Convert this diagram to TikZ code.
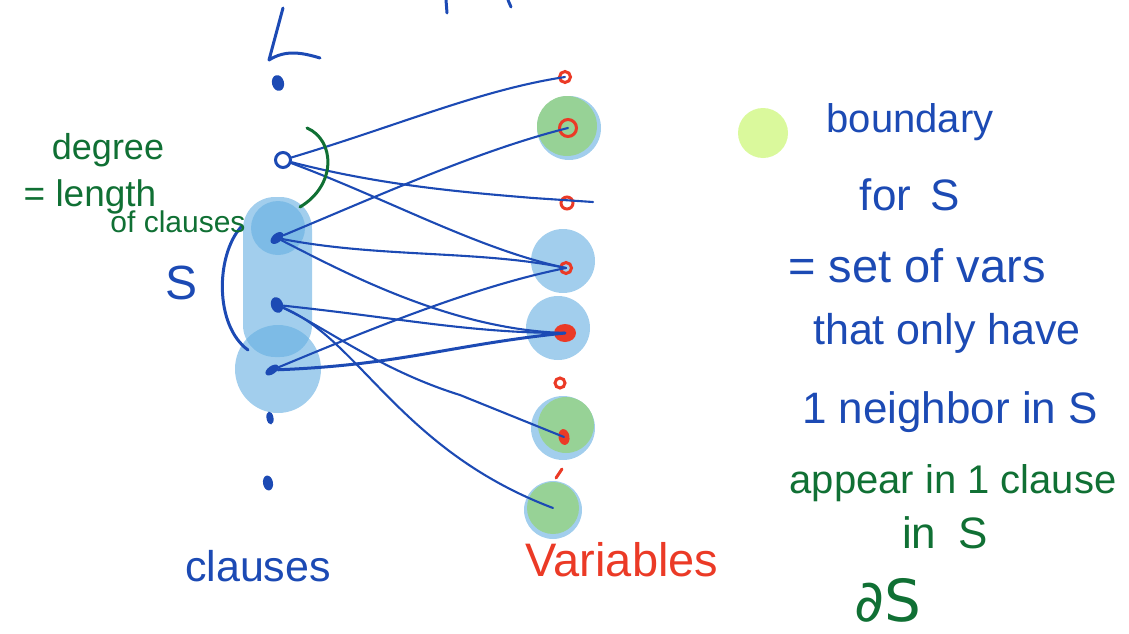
\documentclass[tikz,border=0pt]{standalone}
\usepackage{fontspec}
\setmainfont{Liberation Sans}
\newfontfamily\djv{DejaVu Sans}
\usetikzlibrary{shapes.geometric}
\definecolor{penblue}{RGB}{28,74,180}
\definecolor{penred}{RGB}{235,58,38}
\definecolor{pengreen}{RGB}{16,112,52}
\definecolor{hlblue}{RGB}{100,174,225}
\definecolor{hlgreen}{RGB}{151,210,150}
\definecolor{legendgreen}{RGB}{218,249,156}
\tikzset{
  edge/.style={draw=penblue, line width=2.1pt, line cap=round},
  stroke/.style={line width=3pt, line cap=round, line join=round},
  cdot/.style={ellipse, fill=penblue, minimum width=12pt, minimum height=16pt, inner sep=0pt},
  cring/.style={circle, draw=penblue, line width=3pt, minimum size=15pt, inner sep=0pt},
  vring/.style={circle, draw=penred, line width=3pt, minimum size=12pt, inner sep=0pt},
  vdot/.style={ellipse, fill=penred, minimum width=11pt, minimum height=16pt, inner sep=0pt},
  hl/.style={fill=hlblue, fill opacity=0.6},
  gblob/.style={circle, fill=hlgreen, inner sep=0pt},
  btxt/.style={text=penblue, inner sep=0pt},
  gtxt/.style={text=pengreen, inner sep=0pt},
  rtxt/.style={text=penred, inner sep=0pt},
}
\begin{document}
\begin{tikzpicture}[x=1pt,y=-1pt]
\useasboundingbox (0,0) rectangle (1129,634);
% highlight blobs (clauses)
\fill[hl, rounded corners=32pt] (243,197) rectangle (312,357);
\fill[hl] (278,228) circle (27);
\fill[hl] (278,369) ellipse (43 and 44);
% highlight blobs (variables)
\fill[hl] (569,128) circle (32);
\node[gblob, minimum size=60pt] (g2) at (567,126) {};
\fill[hl] (563,261) circle (32);
\fill[hl] (558,328) circle (32);
\fill[hl] (563,428) circle (32);
\node[gblob, minimum size=56pt] (g7) at (566,425) {};
\fill[hl] (553,510) circle (29);
\node[gblob, minimum size=52pt] (g8) at (553,508) {};
% legend circle
\node[circle, fill=legendgreen, minimum size=50pt, inner sep=0pt] (legend) at (763,133) {};

% clause nodes
\node[cdot, rotate=15] (c1) at (278,83) {};
\node[cring] (c2) at (283,160) {};
\node[cdot, rotate=-50, minimum height=15pt, minimum width=9pt] (c3) at (277,238) {};
\node[cdot, rotate=20] (c4) at (277,305) {};
\node[cdot, rotate=-55, minimum height=15pt, minimum width=8pt] (c5) at (272,370) {};
\node[cdot, rotate=10, minimum height=13pt, minimum width=7pt] (c6) at (270,418) {};
\node[cdot, rotate=10, minimum height=15pt, minimum width=10pt] (c7) at (268,483) {};

% variable nodes
\node[vring, minimum size=11pt] (v1) at (565,77) {};
\node[vring, minimum size=17pt] (v2) at (568,128) {};
\node[vring, minimum size=12pt] (v3) at (567,203) {};
\node[vring, minimum size=11pt] (v4) at (566,268) {};
\node[vdot, minimum width=22pt, minimum height=18pt] (v5) at (565,333) {};
\node[vring, minimum size=10pt] (v6) at (560,383) {};
\node[vdot, rotate=10] (v7) at (564,437) {};
\coordinate (v8) at (553,508);
\coordinate (v3end) at (593,202);
\draw[penred, stroke] (556,478) -- (562,469);

% edges
\draw[edge] (c2) .. controls (400,125) and (480,90) .. (v1.center);
\draw[edge] (c2) .. controls (380,185) and (460,192) .. (533,198) -- (v3end);
\draw[edge] (c2) .. controls (390,200) and (480,250) .. (v4.center);
\draw[edge] (c3) .. controls (380,195) and (480,150) .. (v2.center);
\draw[edge] (c3) .. controls (380,258) and (480,250) .. (v4.center);
\draw[edge] (c3) .. controls (340,270) and (450,330) .. (v5.center);
\draw[edge] (c4) .. controls (400,318) and (470,333) .. (v5.center);
\draw[edge] (c5) .. controls (380,325) and (480,285) .. (v4.center);
\draw[edge, line width=3pt] (c5) .. controls (400,365) and (450,345) .. (v5.center);
\draw[edge] (c4) .. controls (330,330) and (380,370) .. (460,395) -- (v7.center);
\draw[edge] (c4) .. controls (360,340) and (400,450) .. (v8);

% brackets
\draw[pengreen, stroke] (307,128) .. controls (335,140) and (337,185) .. (300,207);
\draw[penblue, stroke] (241,227) .. controls (216,255) and (214,325) .. (248,350);
% cut-off strokes at the top
\draw[penblue, stroke] (283,8) -- (269,60) .. controls (285,50) and (300,52) .. (320,58);
\draw[penblue, stroke] (446,0) -- (447,13);
\draw[penblue, stroke] (508,0) -- (511,7);

% texts
\node[gtxt, font=\fontsize{36}{36}\selectfont] (t1) at (108,150) {degree};
\node[gtxt, font=\fontsize{37}{37}\selectfont] (t2) at (90,197) {= length};
\node[gtxt, font=\fontsize{30}{30}\selectfont] (t3) at (178,222) {of clauses};
\node[btxt, font=\fontsize{48}{48}\selectfont] (s) at (182,283) {S};
\node[btxt, font=\fontsize{43}{43}\selectfont] (clauses) at (258,566) {clauses};
\node[rtxt, font=\fontsize{47}{47}\selectfont] (variables) at (622,560) {Variables};
\node[btxt, font=\fontsize{40}{40}\selectfont] (r1) at (910,122) {boundary};
\node[btxt, font=\fontsize{44}{44}\selectfont] (r2) at (910,195) {for\, S};
\node[btxt, font=\fontsize{47}{47}\selectfont] (r3) at (917,266) {= set of vars};
\node[btxt, font=\fontsize{43}{43}\selectfont] (r4) at (947,333) {that only have};
\node[btxt, font=\fontsize{44}{44}\selectfont] (r5) at (950,412) {1 neighbor in S};
\node[gtxt, font=\fontsize{40}{40}\selectfont] (r6) at (953,483) {appear in 1 clause};
\node[gtxt, font=\fontsize{44}{44}\selectfont] (r7) at (945,533) {in\enspace S};
\node[gtxt, font=\djv\fontsize{58}{58}\selectfont] (r8) at (888,600) {∂S};
\end{tikzpicture}
\end{document}
